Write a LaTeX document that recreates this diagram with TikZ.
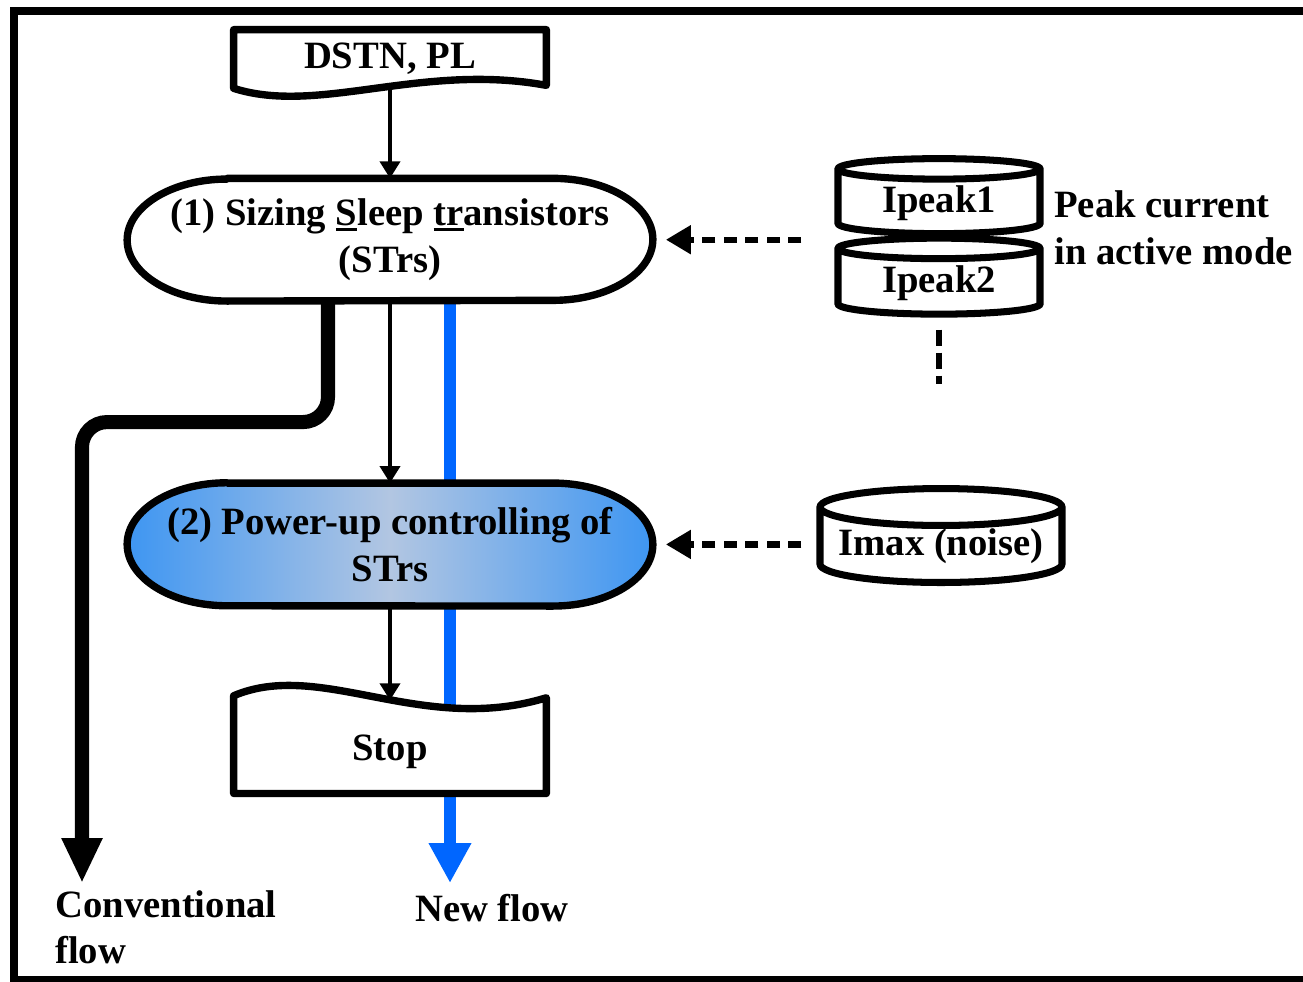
\documentclass[tikz,border=0pt]{standalone}
\usepackage{fontspec}
\setmainfont{Liberation Serif}
\usetikzlibrary{shapes.geometric, arrows.meta, positioning, backgrounds}

\definecolor{flowblue}{RGB}{0,102,255}
\definecolor{shadeedge}{RGB}{62,150,242}
\definecolor{shademid}{RGB}{178,198,226}

% thick underline for the letters of the acronym
\newcommand{\stul}[1]{\setbox0\hbox{#1}\rlap{\rule[-0.14em]{\wd0}{0.09em}}\box0}

\begin{document}
\begin{tikzpicture}[
    node distance=1.5cm,
    font=\bfseries\fontsize{22}{26.5}\selectfont,
    txt/.style={inner sep=0pt, align=center},
    stepnode/.style={txt, minimum width=10.5cm, minimum height=2.44cm},
    outline/.style={line width=4.2pt, line join=round},
    store/.style={cylinder, shape border rotate=90, aspect=0.18, draw, line width=4pt, fill=white, inner sep=0pt},
    arrow/.style={-{Triangle[length=0.34cm, width=0.4cm]}, line width=2.2pt},
    feed/.style={-{Triangle[length=0.5cm, width=0.55cm]}, line width=3.6pt, dash pattern=on 0.26cm off 0.17cm},
    convflow/.style={-{Triangle[length=0.9cm, width=0.76cm]}, line width=8pt, rounded corners=0.5cm},
    newflow/.style={-{Triangle[length=0.8cm, width=0.8cm]}, line width=6.8pt, flowblue},
    note/.style={inner sep=0pt, align=left}
]
\useasboundingbox (0,0) rectangle (26.06,-19.62);
\draw[line width=4.5pt] (26.6,-0.22) -- (0.28,-0.22) -- (0.28,-19.6) -- (26.6,-19.6);

% main column
\node[txt, minimum width=6.24cm, minimum height=1.16cm] (dstn) at (7.8,-1.18) {DSTN, PL};
\node[stepnode, below=1.8cm of dstn] (sizing) {(1) Sizing \stul{S}leep \stul{tr}ansistors\\(STrs)};
\node[stepnode, below=3.64cm of sizing] (powerup) {(2) Power-up controlling of\\STrs};
\node[txt, minimum width=6.24cm, minimum height=1.64cm, below=2.1cm of powerup] (stop) {Stop};

% current data
\node[store, minimum width=4.04cm, minimum height=1.5cm] (ipeakA) at (18.78,-4.06) {Ipeak1};
\node[store, minimum width=4.04cm, minimum height=1.52cm, below=-0.05cm of ipeakA] (ipeakB) {Ipeak2};
\node[store, minimum width=4.84cm, minimum height=1.66cm] (imax) at (18.82,-10.93) {Imax (noise)};
\node[note, anchor=west] (peaknote) at (21.08,-4.55) {Peak current\\in active mode};
\coordinate[below=1.32cm of ipeakB.south] (more);

% flow ends
\coordinate (convtip) at (1.64,-17.66);
\coordinate (newtip) at (9.0,-17.66);
\node[note, anchor=north west] (convlbl) at (1.1,-17.8) {Conventional\\flow};
\node[txt] (newlbl) at (9.84,-18.16) {New flow};

\begin{scope}[on background layer]
\draw[newflow] ([xshift=1.2cm]sizing.south) -- (newtip);
\draw[outline, fill=white] (dstn.south west) |- (dstn.north east) -- ([yshift=0.06cm]dstn.south east)
    .. controls ([xshift=-2.5cm,yshift=0.52cm]dstn.south east) and ([xshift=1.7cm,yshift=-0.54cm]dstn.south west) .. (dstn.south west) -- cycle;
\draw[outline, fill=white] ([xshift=2cm]sizing.north west) -- ([xshift=-2cm]sizing.north east)
    arc[start angle=90, end angle=-90, x radius=2cm, y radius=1.22cm] -- ([xshift=2cm]sizing.south west)
    arc[start angle=270, end angle=90, x radius=2cm, y radius=1.22cm] -- cycle;
\draw[outline, left color=shadeedge, right color=shadeedge, middle color=shademid] ([xshift=2cm]powerup.north west) -- ([xshift=-2cm]powerup.north east)
    arc[start angle=90, end angle=-90, x radius=2cm, y radius=1.23cm] -- ([xshift=2cm]powerup.south west)
    arc[start angle=270, end angle=90, x radius=2cm, y radius=1.23cm] -- cycle;
\draw[outline, fill=white] ([yshift=0.3cm]stop.north west)
    .. controls ([xshift=1.74cm,yshift=1.04cm]stop.north west) and ([xshift=-2.5cm,yshift=-0.5cm]stop.north east) .. ([yshift=0.26cm]stop.north east)
    |- (stop.south west) -- cycle;
\end{scope}

\draw[arrow] (dstn.south) -- (sizing.north);
\draw[arrow] (sizing) -- (powerup);
\draw[arrow] (powerup.south) -- ([yshift=0.21cm]stop.north);
\draw[convflow] ([xshift=-1.24cm]sizing.south) -- ++(0,-2.42) -| (convtip);

\draw[feed] (ipeakA.west |- sizing.east) ++(-0.66,0) -- ([xshift=0.26cm]sizing.east);
\draw[feed] (imax.west |- powerup.east) ++(-0.3,0) -- ([xshift=0.26cm]powerup.east);
\draw[line width=3.6pt, dash pattern=on 0.33cm off 0.13cm] ([yshift=-0.24cm]ipeakB.south) -- (more);

\end{tikzpicture}
\end{document}
